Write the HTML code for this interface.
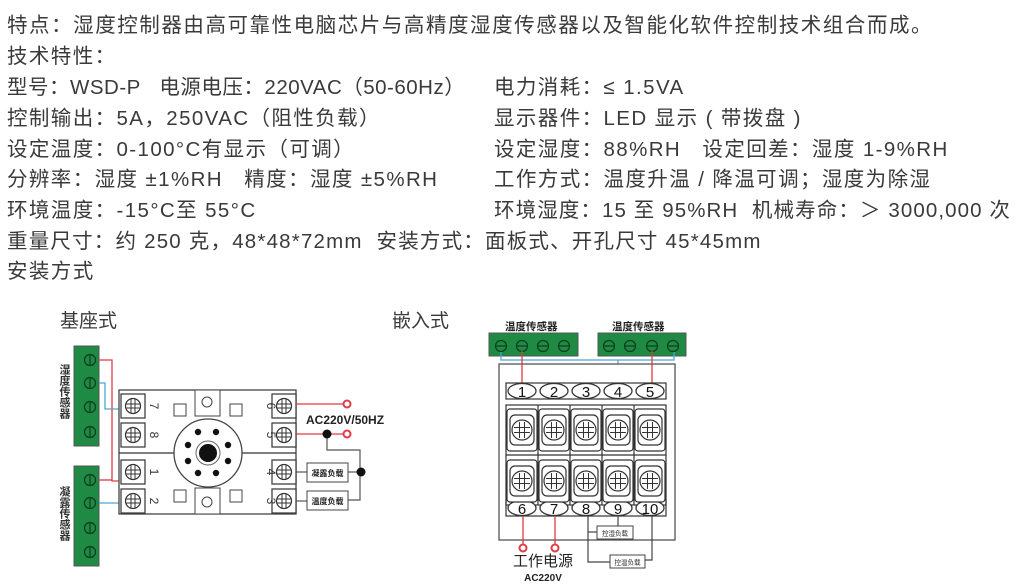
<!DOCTYPE html>
<html><head><meta charset="utf-8"><style>
body{margin:0;width:1030px;height:588px;background:#fff;overflow:hidden;position:relative;font-family:"Liberation Sans","Noto Sans CJK SC",sans-serif;color:#3a3a3a}
.t{position:absolute;font-size:20.5px;white-space:nowrap;line-height:24px;letter-spacing:1.4px}
svg{position:absolute;left:0;top:0}
</style></head><body>
<div class="t" style="left:7px;top:14px;letter-spacing:1.55px">特点：湿度控制器由高可靠性电脑芯片与高精度湿度传感器以及智能化软件控制技术组合而成。</div>
<div class="t" style="left:7px;top:45px">技术特性：</div>
<div class="t" style="left:7px;top:76px;letter-spacing:0.5px">型号：WSD-P&nbsp;&nbsp; 电源电压：220VAC（50-60Hz）</div>
<div class="t" style="left:494px;top:76px">电力消耗：≤ 1.5VA</div>
<div class="t" style="left:7px;top:107px">控制输出：5A，250VAC（阻性负载）</div>
<div class="t" style="left:494px;top:107px">显示器件：LED 显示 ( 带拨盘 )</div>
<div class="t" style="left:7px;top:138px">设定温度：0-100°C有显示（可调）</div>
<div class="t" style="left:494px;top:138px">设定湿度：88%RH&nbsp;&nbsp; 设定回差：湿度 1-9%RH</div>
<div class="t" style="left:7px;top:168px">分辨率：湿度 ±1%RH&nbsp;&nbsp; 精度：湿度 ±5%RH</div>
<div class="t" style="left:494px;top:168px">工作方式：温度升温 / 降温可调；湿度为除湿</div>
<div class="t" style="left:7px;top:199px">环境温度：-15°C至 55°C</div>
<div class="t" style="left:494px;top:199px;letter-spacing:1.1px">环境湿度：15 至 95%RH&nbsp; 机械寿命：＞ 3000,000 次</div>
<div class="t" style="left:7px;top:230px;letter-spacing:1.2px">重量尺寸：约 250 克，48*48*72mm&nbsp; 安装方式：面板式、开孔尺寸 45*45mm</div>
<div class="t" style="left:7px;top:260px">安装方式</div>
<div class="t" style="left:60px;top:310px;font-size:19px;letter-spacing:0">基座式</div>
<div class="t" style="left:392px;top:310px;font-size:19px;letter-spacing:0">嵌入式</div>

<svg width="1030" height="588" viewBox="0 0 1030 588" font-family="Liberation Sans,Noto Sans CJK SC,sans-serif">
<defs>
<g id="scr"><rect x="-12" y="-12" width="24" height="24" fill="#fff" stroke="#333" stroke-width="1.2"/><circle r="7.5" fill="#fff" stroke="#333" stroke-width="1.2"/><path d="M-7 -2H7M-7 2H7M-2 -7V7M2 -7V7" stroke="#333" stroke-width="1"/></g>
<g id="gs"><circle r="5.5" fill="#1f8a44" stroke="#0d3d1c" stroke-width="1.2"/><line x1="-5" y1="0" x2="5" y2="0" stroke="#0d3d1c" stroke-width="1.2"/></g>
<g id="gv"><circle r="5.5" fill="#1f8a44" stroke="#0d3d1c" stroke-width="1.2"/><line x1="0" y1="-5" x2="0" y2="5" stroke="#0d3d1c" stroke-width="1.2"/></g>
<g id="big"><rect x="-15" y="-21" width="30" height="42" rx="3" fill="#fff" stroke="#333" stroke-width="1.2"/><rect x="-12" y="-15" width="24" height="30" rx="5" fill="#fff" stroke="#333" stroke-width="1.2"/><circle r="10" fill="#fff" stroke="#333" stroke-width="1.2"/><path d="M-2.5 -8V8M2.5 -8V8M-8 -2.5H8M-8 2.5H8" stroke="#333" stroke-width="1"/></g>
<g id="ov"><ellipse rx="14" ry="7.5" fill="#fff" stroke="#333" stroke-width="1.3"/></g>
</defs>

<!-- LEFT DIAGRAM -->
<rect x="74" y="346" width="25" height="100" fill="#1f8a44" stroke="#555"/>
<rect x="74" y="466" width="25" height="100" fill="#1f8a44" stroke="#555"/>
<use href="#gv" x="90" y="360"/><use href="#gv" x="90" y="383"/><use href="#gv" x="90" y="407"/><use href="#gv" x="90" y="432"/>
<use href="#gv" x="90" y="480"/><use href="#gv" x="90" y="503"/><use href="#gv" x="90" y="528"/><use href="#gv" x="90" y="552"/>
<text font-size="11" font-weight="bold" fill="#333" writing-mode="tb" x="64" y="364">湿度传感器</text>
<text font-size="11" font-weight="bold" fill="#333" writing-mode="tb" x="64" y="486">凝露传感器</text>
<polyline points="99,360 112,360 112,481 122,481" fill="none" stroke="#e23a45" stroke-width="1.3"/>
<line x1="99" y1="480" x2="112" y2="480" stroke="#e23a45" stroke-width="1.3"/>
<polyline points="99,383 105,383 105,409 122,409" fill="none" stroke="#4aa8d8" stroke-width="1.3"/>
<polyline points="99,503 122,503" fill="none" stroke="#4aa8d8" stroke-width="1.3"/>
<rect x="119" y="390" width="177" height="124" fill="#fff" stroke="#444" stroke-width="1.3"/>
<line x1="119" y1="453" x2="296" y2="453" stroke="#333" stroke-width="1.2"/>
<use href="#scr" x="133" y="406"/><use href="#scr" x="133" y="435"/><use href="#scr" x="133" y="472"/><use href="#scr" x="133" y="501"/>
<use href="#scr" x="284" y="406"/><use href="#scr" x="284" y="435"/><use href="#scr" x="284" y="472"/><use href="#scr" x="284" y="501"/>
<g font-size="12" fill="#333">
<text transform="translate(150,406) rotate(90)" text-anchor="middle">7</text>
<text transform="translate(150,435) rotate(90)" text-anchor="middle">8</text>
<text transform="translate(150,472) rotate(90)" text-anchor="middle">1</text>
<text transform="translate(150,501) rotate(90)" text-anchor="middle">2</text>
<text transform="translate(267,406) rotate(90)" text-anchor="middle">6</text>
<text transform="translate(267,435) rotate(90)" text-anchor="middle">5</text>
<text transform="translate(267,472) rotate(90)" text-anchor="middle">4</text>
<text transform="translate(267,501) rotate(90)" text-anchor="middle">3</text>
</g>
<rect x="174" y="404" width="12" height="12" fill="#fff" stroke="#444"/>
<rect x="230" y="404" width="12" height="12" fill="#fff" stroke="#444"/>
<rect x="174" y="490" width="12" height="12" fill="#fff" stroke="#444"/>
<rect x="230" y="490" width="12" height="12" fill="#fff" stroke="#444"/>
<rect x="195" y="390" width="25" height="26" fill="#fff" stroke="#444"/><circle cx="207" cy="402" r="5" fill="#fff" stroke="#444"/>
<rect x="195" y="488" width="25" height="26" fill="#fff" stroke="#444"/><circle cx="207" cy="502" r="5" fill="#fff" stroke="#444"/>
<circle cx="208" cy="453" r="34" fill="#fff" stroke="#444" stroke-width="1.3"/>
<circle cx="208" cy="453" r="12" fill="#fff" stroke="#666"/>
<circle cx="208" cy="453" r="9" fill="#111"/>
<g fill="#111"><circle cx="198" cy="432" r="3.2"/><circle cx="216" cy="432" r="3.2"/><circle cx="188" cy="445" r="3.2"/><circle cx="228" cy="445" r="3.2"/><circle cx="188" cy="461" r="3.2"/><circle cx="228" cy="461" r="3.2"/><circle cx="198" cy="473" r="3.2"/><circle cx="216" cy="473" r="3.2"/></g>
<line x1="296" y1="404" x2="344" y2="404" stroke="#e23a45" stroke-width="1.3"/>
<line x1="296" y1="434" x2="344" y2="434" stroke="#e23a45" stroke-width="1.3"/>
<circle cx="347" cy="404" r="3.5" fill="#fff" stroke="#e23a45" stroke-width="2"/>
<circle cx="347" cy="434" r="3.5" fill="#fff" stroke="#e23a45" stroke-width="2"/>
<text x="306" y="424" font-size="12" font-weight="bold" fill="#222">AC220V/50HZ</text>
<polyline points="327,434 327,450 360,450 360,500 348,500" fill="none" stroke="#555" stroke-width="1.2"/>
<line x1="296" y1="472" x2="307" y2="472" stroke="#555" stroke-width="1.2"/>
<line x1="296" y1="501" x2="307" y2="501" stroke="#555" stroke-width="1.2"/>
<line x1="348" y1="472" x2="361" y2="472" stroke="#555" stroke-width="1.2"/>
<circle cx="327" cy="434" r="4.5" fill="#111"/><circle cx="361" cy="472" r="4.5" fill="#111"/>
<rect x="307" y="463" width="41" height="19" fill="#fff" stroke="#444"/>
<rect x="307" y="491" width="41" height="19" fill="#fff" stroke="#444"/>
<text x="327.5" y="476" font-size="8" text-anchor="middle" fill="#222" font-weight="bold">凝露负载</text>
<text x="327.5" y="504" font-size="8" text-anchor="middle" fill="#222" font-weight="bold">温度负载</text>

<!-- RIGHT DIAGRAM -->
<text x="505" y="330" font-size="10.5" font-weight="bold" fill="#222">温度传感器</text>
<text x="612" y="330" font-size="10.5" font-weight="bold" fill="#222">温度传感器</text>
<rect x="489" y="333" width="89" height="23" fill="#1f8a44" stroke="#555"/>
<rect x="598" y="333" width="88" height="23" fill="#1f8a44" stroke="#555"/>
<use href="#gs" x="501" y="346"/><use href="#gs" x="522" y="346"/><use href="#gs" x="543" y="346"/><use href="#gs" x="564" y="346"/>
<use href="#gs" x="609" y="346"/><use href="#gs" x="630" y="346"/><use href="#gs" x="652" y="346"/><use href="#gs" x="673" y="346"/>
<polyline points="501,352 501,360 674,360 674,352" fill="none" stroke="#4aa8d8" stroke-width="1.3"/>
<line x1="618" y1="360" x2="618" y2="383" stroke="#4aa8d8" stroke-width="1.3"/>
<rect x="499" y="364" width="176" height="176" fill="#fff" stroke="#555" stroke-width="1.3"/>
<line x1="522" y1="351" x2="522" y2="383" stroke="#e23a45" stroke-width="1.3"/>
<line x1="652" y1="351" x2="652" y2="383" stroke="#e23a45" stroke-width="1.3"/>
<g stroke="#333" stroke-width="1.2" fill="none">
<rect x="506" y="383" width="160" height="16"/>
<rect x="506" y="405" width="160" height="100"/>
<line x1="506" y1="455" x2="666" y2="455"/>
<line x1="538" y1="405" x2="538" y2="505"/><line x1="570" y1="405" x2="570" y2="505"/><line x1="602" y1="405" x2="602" y2="505"/><line x1="634" y1="405" x2="634" y2="505"/>
<rect x="506" y="500" width="160" height="16"/>
</g>
<use href="#ov" x="522" y="391"/><use href="#ov" x="554" y="391"/><use href="#ov" x="586" y="391"/><use href="#ov" x="618" y="391"/><use href="#ov" x="650" y="391"/>
<use href="#ov" x="522" y="508"/><use href="#ov" x="554" y="508"/><use href="#ov" x="586" y="508"/><use href="#ov" x="618" y="508"/><use href="#ov" x="650" y="508"/>
<g font-size="15" fill="#111" text-anchor="middle">
<text x="522" y="397">1</text><text x="554" y="397">2</text><text x="586" y="397">3</text><text x="618" y="397">4</text><text x="650" y="397">5</text>
<text x="522" y="514">6</text><text x="554" y="514">7</text><text x="586" y="514">8</text><text x="618" y="514">9</text><text x="650" y="514">10</text>
</g>
<use href="#big" x="522" y="430"/><use href="#big" x="554" y="430"/><use href="#big" x="586" y="430"/><use href="#big" x="618" y="430"/><use href="#big" x="650" y="430"/>
<use href="#big" x="522" y="481"/><use href="#big" x="554" y="481"/><use href="#big" x="586" y="481"/><use href="#big" x="618" y="481"/><use href="#big" x="650" y="481"/>
<line x1="523" y1="516" x2="523" y2="545" stroke="#e23a45" stroke-width="1.3"/>
<line x1="555" y1="516" x2="555" y2="545" stroke="#e23a45" stroke-width="1.3"/>
<circle cx="523" cy="548" r="3.5" fill="#fff" stroke="#e23a45" stroke-width="2"/>
<circle cx="555" cy="548" r="3.5" fill="#fff" stroke="#e23a45" stroke-width="2"/>
<text x="543" y="566" font-size="15" text-anchor="middle" fill="#222">工作电源</text>
<text x="543" y="581" font-size="10" font-weight="bold" text-anchor="middle" fill="#222">AC220V</text>
<g stroke="#444" stroke-width="1.2" fill="none">
<polyline points="588,516 588,562 611,562"/>
<line x1="588" y1="532" x2="598" y2="532"/>
<polyline points="618,516 618,526"/>
<polyline points="652,516 652,560 645,560"/>
</g>
<rect x="597" y="526" width="36" height="13" fill="#fff" stroke="#444"/>
<rect x="610" y="555" width="35" height="13" fill="#fff" stroke="#444"/>
<text x="615" y="535.5" font-size="6.5" text-anchor="middle" fill="#222">控湿负载</text>
<text x="627.5" y="564.5" font-size="6.5" text-anchor="middle" fill="#222">控温负载</text>
</svg>
</body></html>
